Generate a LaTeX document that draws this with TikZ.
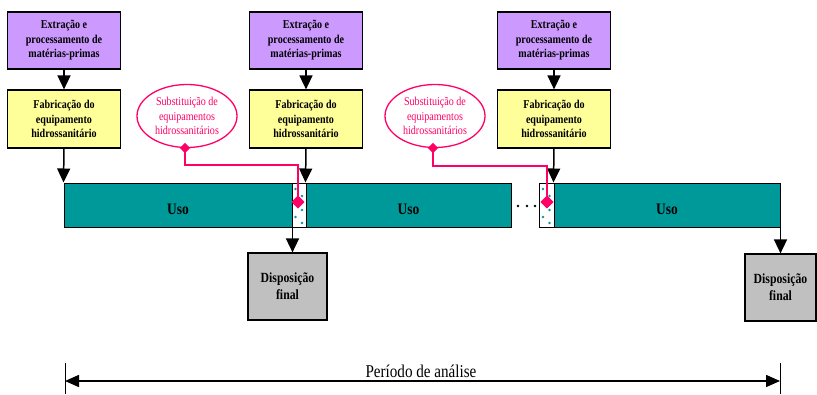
\documentclass[tikz,border=0pt]{standalone}
\usepackage{fontspec}
\setmainfont{Liberation Serif}[FakeStretch=0.84]
\usetikzlibrary{arrows.meta,shapes.geometric,calc}
\definecolor{boxpurple}{HTML}{CC99FF}
\definecolor{boxyellow}{HTML}{FFFF99}
\definecolor{boxgrey}{HTML}{C0C0C0}
\definecolor{barteal}{HTML}{009999}
\definecolor{pinkline}{HTML}{FF0066}
\begin{document}
\begin{tikzpicture}[x=1pt,y=-1pt,
  box/.style={draw=black,line width=1.2pt,align=center,inner sep=0pt,
    font=\fontsize{12}{14.5}\selectfont\bfseries},
  extbox/.style={box,fill=boxpurple,minimum width=113pt,minimum height=57pt},
  fabbox/.style={box,fill=boxyellow,minimum width=113pt,minimum height=58pt},
  disbox/.style={box,fill=boxgrey,minimum height=67pt,font=\fontsize{14}{17}\selectfont\bfseries},
  usebar/.style={draw=black,line width=1pt,fill=barteal,minimum height=44pt,inner sep=0pt},
  usetext/.style={font=\fontsize{16}{18}\selectfont\bfseries,inner sep=0pt},
  hatchbox/.style={draw=black,line width=1pt,fill=white,minimum height=44pt,minimum width=14pt,inner sep=0pt},
  subst/.style={ellipse,draw=pinkline,line width=1.3pt,fill=white,minimum width=100pt,minimum height=63pt,
    inner sep=0pt,align=center,text=pinkline,font=\fontsize{12}{14.5}\selectfont},
  pdiam/.style={diamond,fill=pinkline,inner sep=0pt,minimum width=#1,minimum height=#1},
  arr/.style={line width=1.5pt,-{Triangle[length=14pt,width=13pt]}},
  plink/.style={draw=pinkline,line width=1.4pt},
  tdot/.style={fill=barteal}
]
\useasboundingbox (0,0) rectangle (817,394);

% top boxes
\node[extbox] (e1) at (64,40.5) {Extração e\\processamento de\\matérias-primas};
\node[extbox] (e2) at (306,40.5) {Extração e\\processamento de\\matérias-primas};
\node[extbox] (e3) at (554,40.5) {Extração e\\processamento de\\matérias-primas};
\node[fabbox] (f1) at (64,119) {Fabricação do\\equipamento\\hidrossanitário};
\node[fabbox] (f2) at (306,119) {Fabricação do\\equipamento\\hidrossanitário};
\node[fabbox] (f3) at (554,119) {Fabricação do\\equipamento\\hidrossanitário};

% bars
\node[usebar,minimum width=228pt] (u1) at (178,205) {};
\node[hatchbox] (h1) at (299,205) {};
\node[usebar,minimum width=205pt] (u2) at (408.5,205) {};
\node[hatchbox,minimum width=15pt] (h2) at (546.5,205) {};
\node[usebar,minimum width=226pt] (u3) at (667,205) {};
\node[usetext] (u1t) at ($(u1.center)+(0,4)$) {Uso};
\node[usetext] (u2t) at ($(u2.center)+(0,4)$) {Uso};
\node[usetext] (u3t) at ($(u3.center)+(0,4)$) {Uso};

% dots inside hatch boxes
\foreach \hx in {299,546.5}{
  \foreach \dy/\dx in {-16/-3.5,-9/3,-2/-3.5,5/3,12/-3.5,18/3}{
    \fill[tdot] (\hx+\dx,205+\dy) circle (1.3pt);
  }
}

% ellipsis between bars
\foreach \ex in {518,527,535}{\fill[black] (\ex,206) circle (1.4pt);}

% disposal boxes
\node[disbox,minimum width=79pt] (d1) at (287.5,286.5) {Disposição\\final};
\node[disbox,minimum width=71pt] (d2) at (780.5,287.5) {Disposição\\final};

% arrows
\draw[arr] (e1.south) -- (f1.north);
\draw[arr] (e2.south) -- (f2.north);
\draw[arr] (e3.south) -- (f3.north);
\draw[arr] (f1.south) -- (u1.north west);
\draw[arr] (f2.south) -- (u2.north west);
\draw[arr] (f3.south) -- (u3.north west);
\draw[arr] (u1.south east) -- (d1.north -| u1.south east);
\draw[arr] (u3.south east) -- (d2.north -| u3.south east);

% substitution ellipses
\node[subst] (s1) at (187,116) {Substituição de\\equipamentos\\hidrossanitários};
\node[subst] (s2) at (435,116) {Substituição de\\equipamentos\\hidrossanitários};
\node[pdiam=10pt] (s1d) at (185,148) {};
\node[pdiam=10pt] (s2d) at (433,148) {};
\node[pdiam=13pt] (h1d) at (298,202) {};
\node[pdiam=13pt] (h2d) at (547,202) {};
\coordinate (k1) at (298,165);
\coordinate (k2) at (547,166);
\draw[plink] (s1d.center) |- (k1) -- (h1d.center);
\draw[plink] (s2d.center) |- (k2) -- (h2d.center);
\node[pdiam=10pt] at (s1d) {};
\node[pdiam=10pt] at (s2d) {};
\node[pdiam=13pt] at (h1d) {};
\node[pdiam=13pt] at (h2d) {};

% analysis period
\coordinate (pl) at (65,381);
\coordinate (pr) at (780,381);
\draw[line width=1pt] ($(pl)+(0,-18)$) -- ($(pl)+(0,13)$);
\draw[line width=1pt] ($(pr)+(0,-18)$) -- ($(pr)+(0,13)$);
\draw[line width=1.5pt,{Triangle[length=14pt,width=12pt]}-{Triangle[length=14pt,width=12pt]}] (pl) -- (pr);
\node[font=\fontsize{18}{20}\selectfont,anchor=base] (pt) at (421,377) {Período de análise};
\end{tikzpicture}
\end{document}
